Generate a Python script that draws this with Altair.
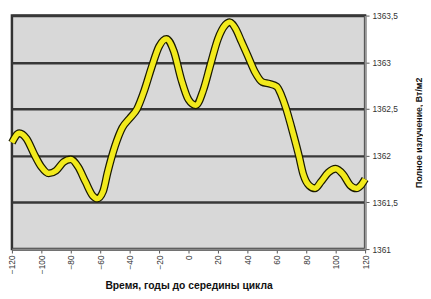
import altair as alt
import pandas as pd

years = [-120, -115, -110, -105, -100, -95, -90, -85, -80, -75, -70, -65, -62, -58,
         -55, -50, -45, -40, -35, -30, -25, -20, -15, -10, -5, 0, 5, 10, 15, 20, 25,
         28, 32, 36, 40, 45, 50, 55, 60, 63, 66, 70, 75, 78, 82, 86, 90, 95, 100,
         105, 110, 114, 117, 120]
irradiance = [1362.14, 1362.24, 1362.18, 1362.02, 1361.88, 1361.81, 1361.84, 1361.93,
              1361.96, 1361.88, 1361.72, 1361.57, 1361.54, 1361.62, 1361.82, 1362.10,
              1362.30, 1362.40, 1362.50, 1362.70, 1362.95, 1363.17, 1363.25, 1363.12,
              1362.82, 1362.60, 1362.54, 1362.70, 1362.98, 1363.25, 1363.40, 1363.43,
              1363.36, 1363.22, 1363.08, 1362.90, 1362.79, 1362.77, 1362.74, 1362.65,
              1362.52, 1362.30, 1362.00, 1361.80, 1361.68, 1361.65, 1361.72, 1361.82,
              1361.86, 1361.80, 1361.68, 1361.65, 1361.68, 1361.75]
x_ticks = [-120, -100, -80, -60, -40, -20, 0, 20, 40, 60, 80, 100, 120]
y_ticks = [1361, 1361.5, 1362, 1362.5, 1363, 1363.5]

df = pd.DataFrame({"year": years, "val": irradiance})

x = alt.X("year:Q", scale=alt.Scale(domain=[-120, 120], nice=False, zero=False),
          axis=alt.Axis(values=x_ticks, labelAngle=270, grid=False,
                        labelOverlap=False, labelFlush=False, labelBound=False,
                        title="Время, годы до середины цикла",
                        titleFontWeight="bold", titleFontSize=10.5, titleFont="Arial",
                        titleColor="#111", titlePadding=7,
                        labelFont="Arial", labelFontSize=8.5, labelColor="#333",
                        domainColor="#888", domainWidth=2, tickColor="#555",
                        tickSize=4, labelPadding=2))
y = alt.Y("val:Q", scale=alt.Scale(domain=[1361, 1363.5], nice=False, zero=False),
          axis=alt.Axis(orient="right", values=y_ticks, labelOverlap=False,
                        labelFlush=False,
                        labelExpr="replace(format(datum.value, '.10~f'), '.', ',')",
                        title="Полное излучение, Вт/м2", titleAngle=270,
                        titleFontWeight="bold", titleFontSize=9, titleFont="Arial",
                        titleColor="#111", titlePadding=26,
                        labelFont="Arial", labelFontSize=8.5, labelColor="#333",
                        grid=True, gridColor="#383838", gridWidth=2.5,
                        domainColor="#999", domainWidth=2, tickColor="#555",
                        tickSize=4, labelPadding=3))

base = alt.Chart(df).encode(x=x, y=y)
outline = base.mark_line(color="#1a1a00", strokeWidth=8, interpolate="monotone")
core = base.mark_line(color="#f2ea1c", strokeWidth=5.5, interpolate="monotone")

chart = alt.layer(outline, core).properties(
    width=360, height=238,
    background="white",
    autosize=alt.AutoSizeParams(type="none"),
    padding={"left": 4, "top": 5, "right": 59, "bottom": 40},
).configure_view(fill="#d8d8d8", stroke="#333", strokeWidth=2.5)

chart.save("out.html", embed_options={"renderer": "svg", "actions": False})
